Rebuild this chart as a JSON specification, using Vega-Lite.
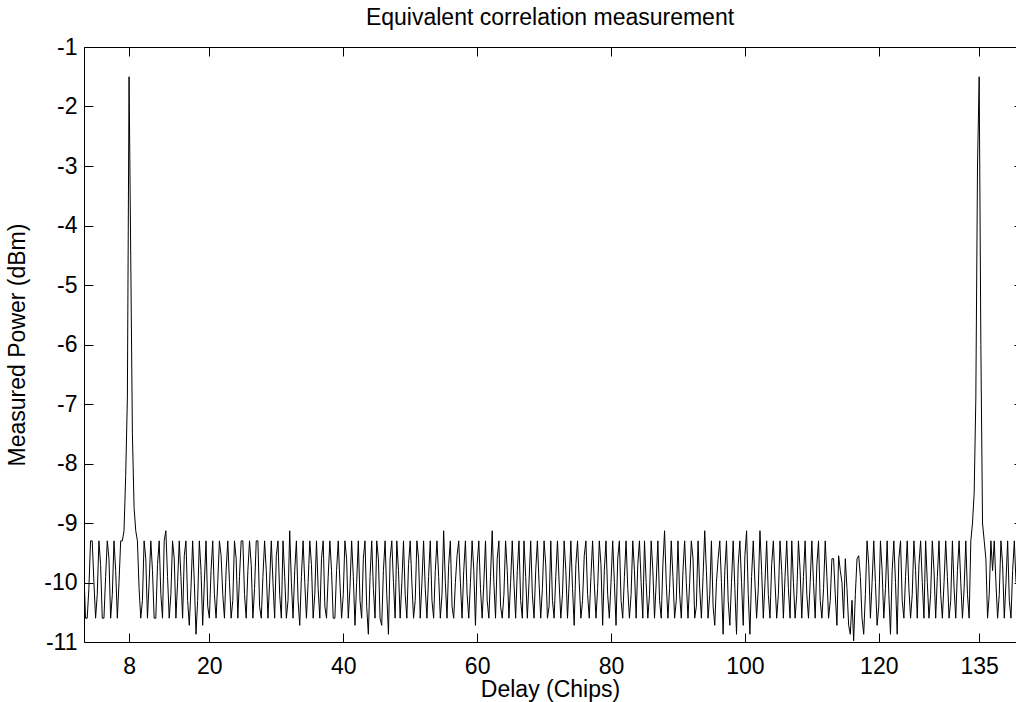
{
"$schema": "https://vega.github.io/schema/vega-lite/v6.json",
"width": 932,
"height": 595,
"autosize": "none",
"padding": {"left": 84, "top": 47, "right": 0, "bottom": 60},
"background": "white",
"title": {"text": "Equivalent correlation measurement", "font": "Liberation Sans", "fontSize": 23, "fontWeight": "normal", "color": "black", "offset": 6, "anchor": "middle"},
"config": {
  "view": {"stroke": null},
  "axis": {"labelFont": "Liberation Sans", "labelFontSize": 23, "labelColor": "black", "titleFont": "Liberation Sans", "titleFontSize": 23, "titleFontWeight": "normal", "titleColor": "black", "domainColor": "black", "domainWidth": 1, "tickColor": "black", "tickWidth": 1, "tickSize": -9, "grid": false}
},
"data": {"values": [
{"delay":1.25,"dbm":-9.8},{"delay":1.5,"dbm":-10.6},{"delay":1.75,"dbm":-10.6},
{"delay":2,"dbm":-10.1},{"delay":2.25,"dbm":-9.3},{"delay":2.5,"dbm":-9.3},{"delay":2.75,"dbm":-10.0},
{"delay":3,"dbm":-10.6},{"delay":3.25,"dbm":-10.2},{"delay":3.5,"dbm":-9.3},{"delay":3.75,"dbm":-9.7},
{"delay":4,"dbm":-10.6},{"delay":4.25,"dbm":-10.6},{"delay":4.5,"dbm":-9.9},{"delay":4.75,"dbm":-9.3},
{"delay":5,"dbm":-9.6},{"delay":5.25,"dbm":-10.6},{"delay":5.5,"dbm":-10.2},{"delay":5.75,"dbm":-9.3},
{"delay":6,"dbm":-9.8},{"delay":6.25,"dbm":-10.6},{"delay":6.5,"dbm":-10.0},{"delay":6.75,"dbm":-9.3},
{"delay":7,"dbm":-9.3},{"delay":7.25,"dbm":-9.13},{"delay":7.5,"dbm":-8.2},{"delay":7.75,"dbm":-6.9},
{"delay":8,"dbm":-1.5},{"delay":8.25,"dbm":-4.5},{"delay":8.5,"dbm":-7.5},{"delay":8.75,"dbm":-8.74},
{"delay":9,"dbm":-9.13},{"delay":9.25,"dbm":-9.3},{"delay":9.5,"dbm":-10.1},{"delay":9.75,"dbm":-10.6},
{"delay":10,"dbm":-10.3},{"delay":10.25,"dbm":-9.3},{"delay":10.5,"dbm":-9.6},{"delay":10.75,"dbm":-10.6},
{"delay":11,"dbm":-10.0},{"delay":11.25,"dbm":-9.3},{"delay":11.5,"dbm":-9.8},{"delay":11.75,"dbm":-10.6},
{"delay":12,"dbm":-10.6},{"delay":12.25,"dbm":-9.7},{"delay":12.5,"dbm":-9.3},{"delay":12.75,"dbm":-10.2},
{"delay":13,"dbm":-10.6},{"delay":13.25,"dbm":-9.3},{"delay":13.5,"dbm":-9.13},{"delay":13.75,"dbm":-9.9},
{"delay":14,"dbm":-10.6},{"delay":14.25,"dbm":-10.2},{"delay":14.5,"dbm":-9.3},{"delay":14.75,"dbm":-9.6},
{"delay":15,"dbm":-10.6},{"delay":15.25,"dbm":-10.0},{"delay":15.5,"dbm":-9.3},{"delay":15.75,"dbm":-9.9},
{"delay":16,"dbm":-10.6},{"delay":16.25,"dbm":-9.55},{"delay":16.5,"dbm":-9.3},{"delay":16.75,"dbm":-10.3},
{"delay":17,"dbm":-10.72},{"delay":17.25,"dbm":-10.1},{"delay":17.5,"dbm":-9.3},{"delay":17.75,"dbm":-10.0},
{"delay":18,"dbm":-10.87},{"delay":18.25,"dbm":-10.3},{"delay":18.5,"dbm":-9.3},{"delay":18.75,"dbm":-9.8},
{"delay":19,"dbm":-10.72},{"delay":19.25,"dbm":-10.0},{"delay":19.5,"dbm":-9.3},{"delay":19.75,"dbm":-10.4},
{"delay":20,"dbm":-10.6},{"delay":20.25,"dbm":-9.8},{"delay":20.5,"dbm":-9.3},{"delay":20.75,"dbm":-10.2},
{"delay":21,"dbm":-10.6},{"delay":21.25,"dbm":-10.0},{"delay":21.5,"dbm":-9.3},{"delay":21.75,"dbm":-9.55},
{"delay":22,"dbm":-10.2},{"delay":22.25,"dbm":-10.6},{"delay":22.5,"dbm":-9.8},{"delay":22.75,"dbm":-9.3},
{"delay":23,"dbm":-10.0},{"delay":23.25,"dbm":-10.6},{"delay":23.5,"dbm":-10.3},{"delay":23.75,"dbm":-9.3},
{"delay":24,"dbm":-9.6},{"delay":24.25,"dbm":-10.6},{"delay":24.5,"dbm":-9.9},{"delay":24.75,"dbm":-9.3},
{"delay":25,"dbm":-9.3},{"delay":25.25,"dbm":-10.2},{"delay":25.5,"dbm":-10.6},{"delay":25.75,"dbm":-9.8},
{"delay":26,"dbm":-9.3},{"delay":26.25,"dbm":-9.7},{"delay":26.5,"dbm":-10.6},{"delay":26.75,"dbm":-10.1},
{"delay":27,"dbm":-9.3},{"delay":27.25,"dbm":-9.3},{"delay":27.5,"dbm":-10.4},{"delay":27.75,"dbm":-10.6},
{"delay":28,"dbm":-9.9},{"delay":28.25,"dbm":-9.3},{"delay":28.5,"dbm":-9.8},{"delay":28.75,"dbm":-10.6},
{"delay":29,"dbm":-10.0},{"delay":29.25,"dbm":-9.3},{"delay":29.5,"dbm":-10.0},{"delay":29.75,"dbm":-10.6},
{"delay":30,"dbm":-9.55},{"delay":30.25,"dbm":-9.3},{"delay":30.5,"dbm":-10.2},{"delay":30.75,"dbm":-10.6},
{"delay":31,"dbm":-9.3},{"delay":31.25,"dbm":-9.9},{"delay":31.5,"dbm":-10.6},{"delay":31.75,"dbm":-10.3},
{"delay":32,"dbm":-9.13},{"delay":32.25,"dbm":-10.0},{"delay":32.5,"dbm":-10.6},{"delay":32.75,"dbm":-9.8},
{"delay":33,"dbm":-9.3},{"delay":33.25,"dbm":-10.3},{"delay":33.5,"dbm":-10.72},{"delay":33.75,"dbm":-9.9},
{"delay":34,"dbm":-9.3},{"delay":34.25,"dbm":-10.0},{"delay":34.5,"dbm":-10.6},{"delay":34.75,"dbm":-10.0},
{"delay":35,"dbm":-9.3},{"delay":35.25,"dbm":-9.7},{"delay":35.5,"dbm":-10.6},{"delay":35.75,"dbm":-10.2},
{"delay":36,"dbm":-9.3},{"delay":36.25,"dbm":-10.1},{"delay":36.5,"dbm":-10.6},{"delay":36.75,"dbm":-9.6},
{"delay":37,"dbm":-9.3},{"delay":37.25,"dbm":-10.4},{"delay":37.5,"dbm":-10.6},{"delay":37.75,"dbm":-9.9},
{"delay":38,"dbm":-9.3},{"delay":38.25,"dbm":-9.8},{"delay":38.5,"dbm":-10.6},{"delay":38.75,"dbm":-10.6},
{"delay":39,"dbm":-9.8},{"delay":39.25,"dbm":-9.3},{"delay":39.5,"dbm":-10.0},{"delay":39.75,"dbm":-10.6},
{"delay":40,"dbm":-10.2},{"delay":40.25,"dbm":-9.3},{"delay":40.5,"dbm":-9.6},{"delay":40.75,"dbm":-10.6},
{"delay":41,"dbm":-10.1},{"delay":41.25,"dbm":-9.3},{"delay":41.5,"dbm":-9.9},{"delay":41.75,"dbm":-10.72},
{"delay":42,"dbm":-10.0},{"delay":42.25,"dbm":-9.3},{"delay":42.5,"dbm":-10.3},{"delay":42.75,"dbm":-10.6},
{"delay":43,"dbm":-9.6},{"delay":43.25,"dbm":-9.3},{"delay":43.5,"dbm":-10.4},{"delay":43.75,"dbm":-10.87},
{"delay":44,"dbm":-9.9},{"delay":44.25,"dbm":-9.3},{"delay":44.5,"dbm":-10.1},{"delay":44.75,"dbm":-10.6},
{"delay":45,"dbm":-9.3},{"delay":45.25,"dbm":-9.6},{"delay":45.5,"dbm":-10.6},{"delay":45.75,"dbm":-10.72},
{"delay":46,"dbm":-9.8},{"delay":46.25,"dbm":-9.3},{"delay":46.5,"dbm":-10.2},{"delay":46.75,"dbm":-10.87},
{"delay":47,"dbm":-9.6},{"delay":47.25,"dbm":-9.3},{"delay":47.5,"dbm":-10.0},{"delay":47.75,"dbm":-10.6},
{"delay":48,"dbm":-9.3},{"delay":48.25,"dbm":-9.8},{"delay":48.5,"dbm":-10.6},{"delay":48.75,"dbm":-10.0},
{"delay":49,"dbm":-9.3},{"delay":49.25,"dbm":-10.2},{"delay":49.5,"dbm":-10.6},{"delay":49.75,"dbm":-9.7},
{"delay":50,"dbm":-9.3},{"delay":50.25,"dbm":-10.0},{"delay":50.5,"dbm":-10.6},{"delay":50.75,"dbm":-10.3},
{"delay":51,"dbm":-9.3},{"delay":51.25,"dbm":-9.6},{"delay":51.5,"dbm":-10.6},{"delay":51.75,"dbm":-10.0},
{"delay":52,"dbm":-9.3},{"delay":52.25,"dbm":-10.1},{"delay":52.5,"dbm":-10.6},{"delay":52.75,"dbm":-9.9},
{"delay":53,"dbm":-9.3},{"delay":53.25,"dbm":-10.3},{"delay":53.5,"dbm":-10.6},{"delay":53.75,"dbm":-9.8},
{"delay":54,"dbm":-9.3},{"delay":54.25,"dbm":-9.9},{"delay":54.5,"dbm":-10.6},{"delay":54.75,"dbm":-10.2},
{"delay":55,"dbm":-9.13},{"delay":55.25,"dbm":-10.0},{"delay":55.5,"dbm":-10.6},{"delay":55.75,"dbm":-9.7},
{"delay":56,"dbm":-9.3},{"delay":56.25,"dbm":-10.4},{"delay":56.5,"dbm":-10.6},{"delay":56.75,"dbm":-10.0},
{"delay":57,"dbm":-9.55},{"delay":57.25,"dbm":-9.3},{"delay":57.5,"dbm":-10.0},{"delay":57.75,"dbm":-10.6},
{"delay":58,"dbm":-9.8},{"delay":58.25,"dbm":-9.3},{"delay":58.5,"dbm":-10.2},{"delay":58.75,"dbm":-10.6},
{"delay":59,"dbm":-10.0},{"delay":59.25,"dbm":-9.3},{"delay":59.5,"dbm":-9.8},{"delay":59.75,"dbm":-10.72},
{"delay":60,"dbm":-9.7},{"delay":60.25,"dbm":-9.3},{"delay":60.5,"dbm":-10.1},{"delay":60.75,"dbm":-10.6},
{"delay":61,"dbm":-10.0},{"delay":61.25,"dbm":-9.3},{"delay":61.5,"dbm":-10.3},{"delay":61.75,"dbm":-10.6},
{"delay":62,"dbm":-9.9},{"delay":62.25,"dbm":-9.13},{"delay":62.5,"dbm":-10.0},{"delay":62.75,"dbm":-10.6},
{"delay":63,"dbm":-9.6},{"delay":63.25,"dbm":-9.3},{"delay":63.5,"dbm":-10.4},{"delay":63.75,"dbm":-10.6},
{"delay":64,"dbm":-10.2},{"delay":64.25,"dbm":-9.3},{"delay":64.5,"dbm":-9.8},{"delay":64.75,"dbm":-10.6},
{"delay":65,"dbm":-10.0},{"delay":65.25,"dbm":-9.3},{"delay":65.5,"dbm":-10.0},{"delay":65.75,"dbm":-10.6},
{"delay":66,"dbm":-9.8},{"delay":66.25,"dbm":-9.3},{"delay":66.5,"dbm":-10.3},{"delay":66.75,"dbm":-10.6},
{"delay":67,"dbm":-9.3},{"delay":67.25,"dbm":-9.9},{"delay":67.5,"dbm":-10.6},{"delay":67.75,"dbm":-10.0},
{"delay":68,"dbm":-9.3},{"delay":68.25,"dbm":-10.2},{"delay":68.5,"dbm":-10.6},{"delay":68.75,"dbm":-9.8},
{"delay":69,"dbm":-9.3},{"delay":69.25,"dbm":-10.0},{"delay":69.5,"dbm":-10.6},{"delay":69.75,"dbm":-10.1},
{"delay":70,"dbm":-9.3},{"delay":70.25,"dbm":-9.7},{"delay":70.5,"dbm":-10.6},{"delay":70.75,"dbm":-10.4},
{"delay":71,"dbm":-9.3},{"delay":71.25,"dbm":-10.3},{"delay":71.5,"dbm":-10.6},{"delay":71.75,"dbm":-9.9},
{"delay":72,"dbm":-9.3},{"delay":72.25,"dbm":-10.0},{"delay":72.5,"dbm":-10.6},{"delay":72.75,"dbm":-10.2},
{"delay":73,"dbm":-9.3},{"delay":73.25,"dbm":-9.8},{"delay":73.5,"dbm":-10.6},{"delay":73.75,"dbm":-10.0},
{"delay":74,"dbm":-9.3},{"delay":74.25,"dbm":-10.1},{"delay":74.5,"dbm":-10.72},{"delay":74.75,"dbm":-9.7},
{"delay":75,"dbm":-9.3},{"delay":75.25,"dbm":-10.0},{"delay":75.5,"dbm":-10.6},{"delay":75.75,"dbm":-10.3},
{"delay":76,"dbm":-9.55},{"delay":76.25,"dbm":-9.3},{"delay":76.5,"dbm":-10.2},{"delay":76.75,"dbm":-10.6},
{"delay":77,"dbm":-9.9},{"delay":77.25,"dbm":-9.3},{"delay":77.5,"dbm":-10.0},{"delay":77.75,"dbm":-10.6},
{"delay":78,"dbm":-10.1},{"delay":78.25,"dbm":-9.3},{"delay":78.5,"dbm":-9.7},{"delay":78.75,"dbm":-10.72},
{"delay":79,"dbm":-9.8},{"delay":79.25,"dbm":-9.3},{"delay":79.5,"dbm":-10.2},{"delay":79.75,"dbm":-10.6},
{"delay":80,"dbm":-10.0},{"delay":80.25,"dbm":-9.3},{"delay":80.5,"dbm":-10.0},{"delay":80.75,"dbm":-10.72},
{"delay":81,"dbm":-9.6},{"delay":81.25,"dbm":-9.3},{"delay":81.5,"dbm":-10.3},{"delay":81.75,"dbm":-10.6},
{"delay":82,"dbm":-9.9},{"delay":82.25,"dbm":-9.3},{"delay":82.5,"dbm":-10.1},{"delay":82.75,"dbm":-10.6},
{"delay":83,"dbm":-10.2},{"delay":83.25,"dbm":-9.3},{"delay":83.5,"dbm":-9.8},{"delay":83.75,"dbm":-10.6},
{"delay":84,"dbm":-9.7},{"delay":84.25,"dbm":-9.3},{"delay":84.5,"dbm":-10.0},{"delay":84.75,"dbm":-10.6},
{"delay":85,"dbm":-9.3},{"delay":85.25,"dbm":-10.0},{"delay":85.5,"dbm":-10.6},{"delay":85.75,"dbm":-10.2},
{"delay":86,"dbm":-9.3},{"delay":86.25,"dbm":-9.8},{"delay":86.5,"dbm":-10.6},{"delay":86.75,"dbm":-10.0},
{"delay":87,"dbm":-9.3},{"delay":87.25,"dbm":-10.3},{"delay":87.5,"dbm":-10.6},{"delay":87.75,"dbm":-9.7},
{"delay":88,"dbm":-9.13},{"delay":88.25,"dbm":-10.0},{"delay":88.5,"dbm":-10.6},{"delay":88.75,"dbm":-10.1},
{"delay":89,"dbm":-9.3},{"delay":89.25,"dbm":-9.9},{"delay":89.5,"dbm":-10.6},{"delay":89.75,"dbm":-10.3},
{"delay":90,"dbm":-9.3},{"delay":90.25,"dbm":-10.2},{"delay":90.5,"dbm":-10.6},{"delay":90.75,"dbm":-9.8},
{"delay":91,"dbm":-9.3},{"delay":91.25,"dbm":-10.0},{"delay":91.5,"dbm":-10.6},{"delay":91.75,"dbm":-10.0},
{"delay":92,"dbm":-9.3},{"delay":92.25,"dbm":-9.6},{"delay":92.5,"dbm":-10.6},{"delay":92.75,"dbm":-10.4},
{"delay":93,"dbm":-9.3},{"delay":93.25,"dbm":-10.1},{"delay":93.5,"dbm":-10.6},{"delay":93.75,"dbm":-9.9},
{"delay":94,"dbm":-9.13},{"delay":94.25,"dbm":-9.8},{"delay":94.5,"dbm":-10.6},{"delay":94.75,"dbm":-10.2},
{"delay":95,"dbm":-9.3},{"delay":95.25,"dbm":-10.4},{"delay":95.5,"dbm":-10.72},{"delay":95.75,"dbm":-10.0},
{"delay":96,"dbm":-9.6},{"delay":96.25,"dbm":-9.3},{"delay":96.5,"dbm":-10.0},{"delay":96.75,"dbm":-10.87},
{"delay":97,"dbm":-9.8},{"delay":97.25,"dbm":-9.3},{"delay":97.5,"dbm":-10.3},{"delay":97.75,"dbm":-10.72},
{"delay":98,"dbm":-10.0},{"delay":98.25,"dbm":-9.3},{"delay":98.5,"dbm":-10.1},{"delay":98.75,"dbm":-10.87},
{"delay":99,"dbm":-9.7},{"delay":99.25,"dbm":-9.3},{"delay":99.5,"dbm":-10.0},{"delay":99.75,"dbm":-10.72},
{"delay":100,"dbm":-9.55},{"delay":100.25,"dbm":-9.13},{"delay":100.5,"dbm":-10.2},{"delay":100.75,"dbm":-10.87},
{"delay":101,"dbm":-9.9},{"delay":101.25,"dbm":-9.3},{"delay":101.5,"dbm":-10.0},{"delay":101.75,"dbm":-10.6},
{"delay":102,"dbm":-10.1},{"delay":102.25,"dbm":-9.13},{"delay":102.5,"dbm":-9.8},{"delay":102.75,"dbm":-10.6},
{"delay":103,"dbm":-10.0},{"delay":103.25,"dbm":-9.3},{"delay":103.5,"dbm":-10.2},{"delay":103.75,"dbm":-10.6},
{"delay":104,"dbm":-9.7},{"delay":104.25,"dbm":-9.3},{"delay":104.5,"dbm":-10.0},{"delay":104.75,"dbm":-10.6},
{"delay":105,"dbm":-10.2},{"delay":105.25,"dbm":-9.3},{"delay":105.5,"dbm":-9.8},{"delay":105.75,"dbm":-10.6},
{"delay":106,"dbm":-9.9},{"delay":106.25,"dbm":-9.3},{"delay":106.5,"dbm":-10.1},{"delay":106.75,"dbm":-10.6},
{"delay":107,"dbm":-9.3},{"delay":107.25,"dbm":-10.0},{"delay":107.5,"dbm":-10.6},{"delay":107.75,"dbm":-10.2},
{"delay":108,"dbm":-9.3},{"delay":108.25,"dbm":-9.8},{"delay":108.5,"dbm":-10.6},{"delay":108.75,"dbm":-9.9},
{"delay":109,"dbm":-9.3},{"delay":109.25,"dbm":-10.2},{"delay":109.5,"dbm":-10.6},{"delay":109.75,"dbm":-10.0},
{"delay":110,"dbm":-9.3},{"delay":110.25,"dbm":-10.0},{"delay":110.5,"dbm":-10.6},{"delay":110.75,"dbm":-9.7},
{"delay":111,"dbm":-9.3},{"delay":111.25,"dbm":-10.3},{"delay":111.5,"dbm":-10.6},{"delay":111.75,"dbm":-10.1},
{"delay":112,"dbm":-9.3},{"delay":112.25,"dbm":-9.9},{"delay":112.5,"dbm":-10.6},{"delay":112.75,"dbm":-10.3},
{"delay":113,"dbm":-9.6},{"delay":113.25,"dbm":-9.6},{"delay":113.5,"dbm":-10.2},{"delay":113.75,"dbm":-10.72},
{"delay":114,"dbm":-9.55},{"delay":114.25,"dbm":-9.8},{"delay":114.5,"dbm":-10.0},{"delay":114.75,"dbm":-10.6},
{"delay":115,"dbm":-9.6},{"delay":115.25,"dbm":-10.1},{"delay":115.5,"dbm":-10.72},{"delay":115.75,"dbm":-10.87},
{"delay":116,"dbm":-10.3},{"delay":116.25,"dbm":-10.98},{"delay":116.5,"dbm":-10.2},{"delay":116.75,"dbm":-9.6},
{"delay":117,"dbm":-9.55},{"delay":117.25,"dbm":-9.9},{"delay":117.5,"dbm":-10.6},{"delay":117.75,"dbm":-10.87},
{"delay":118,"dbm":-10.2},{"delay":118.25,"dbm":-9.3},{"delay":118.5,"dbm":-9.7},{"delay":118.75,"dbm":-10.6},
{"delay":119,"dbm":-10.0},{"delay":119.25,"dbm":-9.3},{"delay":119.5,"dbm":-10.0},{"delay":119.75,"dbm":-10.72},
{"delay":120,"dbm":-10.4},{"delay":120.25,"dbm":-9.3},{"delay":120.5,"dbm":-9.8},{"delay":120.75,"dbm":-10.6},
{"delay":121,"dbm":-10.1},{"delay":121.25,"dbm":-9.3},{"delay":121.5,"dbm":-10.2},{"delay":121.75,"dbm":-10.87},
{"delay":122,"dbm":-9.8},{"delay":122.25,"dbm":-9.3},{"delay":122.5,"dbm":-10.0},{"delay":122.75,"dbm":-10.87},
{"delay":123,"dbm":-9.6},{"delay":123.25,"dbm":-9.3},{"delay":123.5,"dbm":-10.3},{"delay":123.75,"dbm":-10.6},
{"delay":124,"dbm":-9.9},{"delay":124.25,"dbm":-9.3},{"delay":124.5,"dbm":-10.1},{"delay":124.75,"dbm":-10.6},
{"delay":125,"dbm":-10.2},{"delay":125.25,"dbm":-9.3},{"delay":125.5,"dbm":-9.8},{"delay":125.75,"dbm":-10.6},
{"delay":126,"dbm":-9.7},{"delay":126.25,"dbm":-9.3},{"delay":126.5,"dbm":-10.0},{"delay":126.75,"dbm":-10.6},
{"delay":127,"dbm":-9.3},{"delay":127.25,"dbm":-10.0},{"delay":127.5,"dbm":-10.6},{"delay":127.75,"dbm":-10.2},
{"delay":128,"dbm":-9.3},{"delay":128.25,"dbm":-9.8},{"delay":128.5,"dbm":-10.6},{"delay":128.75,"dbm":-9.9},
{"delay":129,"dbm":-9.3},{"delay":129.25,"dbm":-10.2},{"delay":129.5,"dbm":-10.6},{"delay":129.75,"dbm":-10.0},
{"delay":130,"dbm":-9.3},{"delay":130.25,"dbm":-9.9},{"delay":130.5,"dbm":-10.6},{"delay":130.75,"dbm":-10.3},
{"delay":131,"dbm":-9.3},{"delay":131.25,"dbm":-10.1},{"delay":131.5,"dbm":-10.6},{"delay":131.75,"dbm":-9.8},
{"delay":132,"dbm":-9.3},{"delay":132.25,"dbm":-10.0},{"delay":132.5,"dbm":-10.6},{"delay":132.75,"dbm":-10.1},
{"delay":133,"dbm":-9.3},{"delay":133.25,"dbm":-10.2},{"delay":133.5,"dbm":-10.6},{"delay":133.75,"dbm":-9.3},
{"delay":134,"dbm":-9.0},{"delay":134.25,"dbm":-8.5},{"delay":134.5,"dbm":-6.9},{"delay":134.75,"dbm":-3.0},
{"delay":135,"dbm":-1.5},{"delay":135.25,"dbm":-6.0},{"delay":135.5,"dbm":-9.0},{"delay":135.75,"dbm":-9.3},
{"delay":136,"dbm":-9.6},{"delay":136.25,"dbm":-10.6},{"delay":136.5,"dbm":-10.2},{"delay":136.75,"dbm":-9.3},
{"delay":137,"dbm":-9.8},{"delay":137.25,"dbm":-9.3},{"delay":137.5,"dbm":-10.0},{"delay":137.75,"dbm":-10.6},
{"delay":138,"dbm":-10.2},{"delay":138.25,"dbm":-9.3},{"delay":138.5,"dbm":-9.7},{"delay":138.75,"dbm":-10.6},
{"delay":139,"dbm":-10.0},{"delay":139.25,"dbm":-9.3},{"delay":139.5,"dbm":-10.3},{"delay":139.75,"dbm":-10.6},
{"delay":140,"dbm":-9.8},{"delay":140.25,"dbm":-9.3},{"delay":140.5,"dbm":-10.0}
]},
"layer": [
  {
    "mark": {"type": "line", "color": "black", "strokeWidth": 1, "clip": true},
    "encoding": {
      "x": {"field": "delay", "type": "quantitative", "scale": {"domain": [1.27, 140.5], "nice": false, "zero": false},
            "axis": {"orient": "bottom", "values": [8, 20, 40, 60, 80, 100, 120, 135], "labelPadding": 22, "labelExpr": "'' + datum.value", "title": "Delay (Chips)", "titlePadding": 0}},
      "y": {"field": "dbm", "type": "quantitative", "scale": {"domain": [-11, -1], "nice": false, "zero": false},
            "axis": {"orient": "left", "values": [-11, -10, -9, -8, -7, -6, -5, -4, -3, -2, -1], "labelPadding": 16, "labelExpr": "'' + datum.value", "title": "Measured Power (dBm)", "titlePadding": 14}}
    }
  },
  {
    "mark": {"type": "line", "strokeOpacity": 0, "clip": true},
    "encoding": {
      "x": {"field": "delay", "type": "quantitative", "axis": {"orient": "top", "values": [8, 20, 40, 60, 80, 100, 120, 135], "labels": false, "title": null}},
      "y": {"field": "dbm", "type": "quantitative", "axis": {"orient": "right", "values": [-11, -10, -9, -8, -7, -6, -5, -4, -3, -2, -1], "labels": false, "title": null, "domain": false, "tickSize": -2}}
    }
  }
],
"resolve": {"axis": {"x": "independent", "y": "independent"}}
}
